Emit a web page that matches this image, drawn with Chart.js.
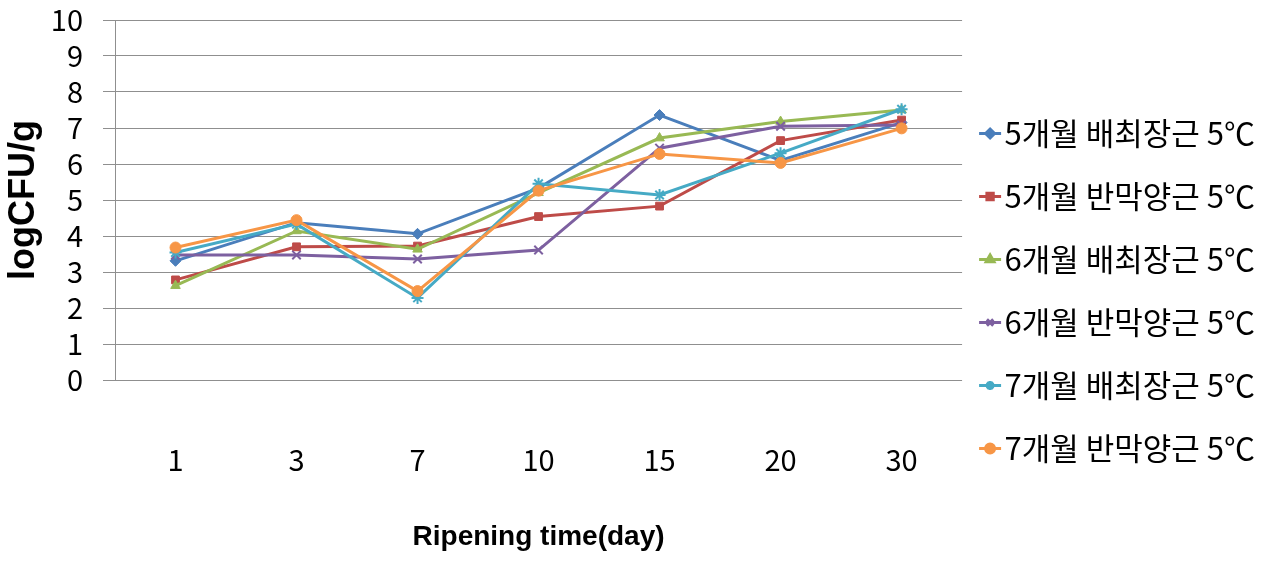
<!DOCTYPE html>
<html lang="ko">
<head>
<meta charset="utf-8">
<title>숙성 기간에 따른 균수 변화</title>
<script src="https://cdn.jsdelivr.net/npm/chart.js@4.4.1/dist/chart.umd.min.js"></script>
<style>
  html, body { margin: 0; padding: 0; background: #fff; }
  #wrap { width: 1265px; height: 562px; }
</style>
</head>
<body>
<div id="wrap"><canvas id="cfuChart" width="1265" height="562"></canvas></div>
<script>
// ripening days (category axis)
const days = ['1', '3', '7', '10', '15', '20', '30'];

const seriesNames = [
  '5개월 배최장근 5℃',
  '5개월 반막양근 5℃',
  '6개월 배최장근 5℃',
  '6개월 반막양근 5℃',
  '7개월 배최장근 5℃',
  '7개월 반막양근 5℃'
];

// logCFU/g per day
const m5Longissimus = [3.31, 4.37, 4.06, 5.33, 7.36, 6.10, 7.15];
const m5Semimem     = [2.78, 3.70, 3.72, 4.54, 4.83, 6.65, 7.22];
const m6Longissimus = [2.62, 4.14, 3.63, 5.20, 6.72, 7.18, 7.50];
const m6Semimem     = [3.47, 3.47, 3.36, 3.61, 6.44, 7.05, 7.08];
const m7Longissimus = [3.54, 4.33, 2.28, 5.45, 5.14, 6.30, 7.52];
const m7Semimem     = [3.68, 4.44, 2.47, 5.26, 6.28, 6.03, 6.99];

const yTicks = [0, 1, 2, 3, 4, 5, 6, 7, 8, 9, 10];

const colors  = ['#4a7ebb', '#be4b48', '#98b954', '#7d60a0', '#46aac5', '#f79646'];
const markers = ['rectRot', 'rect', 'triangle', 'crossRot', 'star', 'circle'];
const allSeries = [m5Longissimus, m5Semimem, m6Longissimus, m6Semimem, m7Longissimus, m7Semimem];

const GRID = '#8f8f8f';
const KR_FONT = "'Noto Sans CJK KR', 'Noto Sans', sans-serif";
const BOLD_FONT = "'Liberation Sans', Arial, sans-serif";

const datasets = allSeries.map((vals, i) => ({
  label: seriesNames[i],
  data: vals,
  borderColor: colors[i],
  backgroundColor: colors[i],
  pointBackgroundColor: colors[i],
  pointBorderColor: colors[i],
  pointStyle: markers[i],
  pointRadius: markers[i] === 'star' || markers[i] === 'crossRot' ? 6 : 5.5,
  pointBorderWidth: markers[i] === 'star' || markers[i] === 'crossRot' ? 2 : 1,
  borderWidth: 3,
  tension: 0,
  fill: false,
  // later series on top, like the spreadsheet
  order: allSeries.length - i
}));

// line + marker in front of each legend entry
const legendSymbols = {
  id: 'legendSymbols',
  afterDraw(chart) {
    const legend = chart.legend;
    if (!legend || !legend.legendHitBoxes) return;
    const ctx = chart.ctx;
    legend.legendItems.forEach((item, i) => {
      const box = legend.legendHitBoxes[i];
      const ds = chart.data.datasets[item.datasetIndex];
      const y = box.top + box.height / 2;
      const x0 = box.left;
      ctx.save();
      ctx.strokeStyle = ds.borderColor;
      ctx.lineWidth = 3;
      ctx.beginPath();
      ctx.moveTo(x0, y);
      ctx.lineTo(x0 + 22, y);
      ctx.stroke();
      ctx.fillStyle = ds.pointBackgroundColor;
      ctx.strokeStyle = ds.pointBorderColor;
      Chart.helpers.drawPoint(ctx, {
        pointStyle: ds.pointStyle,
        radius: 4.5,
        borderWidth: ds.pointBorderWidth,
        rotation: 0
      }, x0 + 11, y);
      ctx.restore();
    });
  }
};

new Chart(document.getElementById('cfuChart'), {
  type: 'line',
  data: { labels: days, datasets: datasets },
  plugins: [legendSymbols],
  options: {
    responsive: false,
    animation: false,
    devicePixelRatio: 1,
    layout: { padding: { top: 20, bottom: 0, left: 2, right: 0 } },
    plugins: {
      tooltip: { enabled: false },
      legend: {
        position: 'right',
        align: 'center',
        labels: {
          boxWidth: 10,
          boxHeight: 46,
          padding: 17,
          color: '#000',
          font: { family: KR_FONT, size: 31 },
          sort: (a, b) => a.datasetIndex - b.datasetIndex,
          generateLabels(chart) {
            const items = Chart.defaults.plugins.legend.labels.generateLabels(chart);
            items.forEach(it => {
              it.fillStyle = 'rgba(0,0,0,0)';
              it.strokeStyle = 'rgba(0,0,0,0)';
              it.lineWidth = 0;
            });
            return items;
          }
        }
      }
    },
    scales: {
      x: {
        type: 'category',
        offset: true,
        grid: { display: false, drawTicks: false },
        border: { display: false },
        ticks: {
          color: '#000',
          padding: 63,
          font: { family: KR_FONT, size: 29 }
        },
        title: {
          display: true,
          text: 'Ripening time(day)',
          color: '#000',
          padding: { top: 0, bottom: 8 },
          font: { family: BOLD_FONT, size: 28, weight: 'bold' }
        },
        afterFit(scale) { scale.height = 182; }
      },
      y: {
        min: 0,
        max: 10,
        afterBuildTicks(scale) { scale.ticks = yTicks.map(v => ({ value: v })); },
        grid: { color: GRID, lineWidth: 1, tickLength: 12 },
        border: { color: GRID, width: 1 },
        ticks: {
          color: '#000',
          padding: 20,
          autoSkip: false,
          font: { family: KR_FONT, size: 29 }
        },
        title: {
          display: true,
          text: 'logCFU/g',
          color: '#000',
          padding: 0,
          font: { family: BOLD_FONT, size: 36, weight: 'bold' }
        },
        afterFit(scale) {
          scale.width = 113;
          // top/bottom labels may overhang the plot edge
          scale.paddingTop = 0;
          scale.paddingBottom = 0;
        }
      }
    }
  }
});
</script>
</body>
</html>
